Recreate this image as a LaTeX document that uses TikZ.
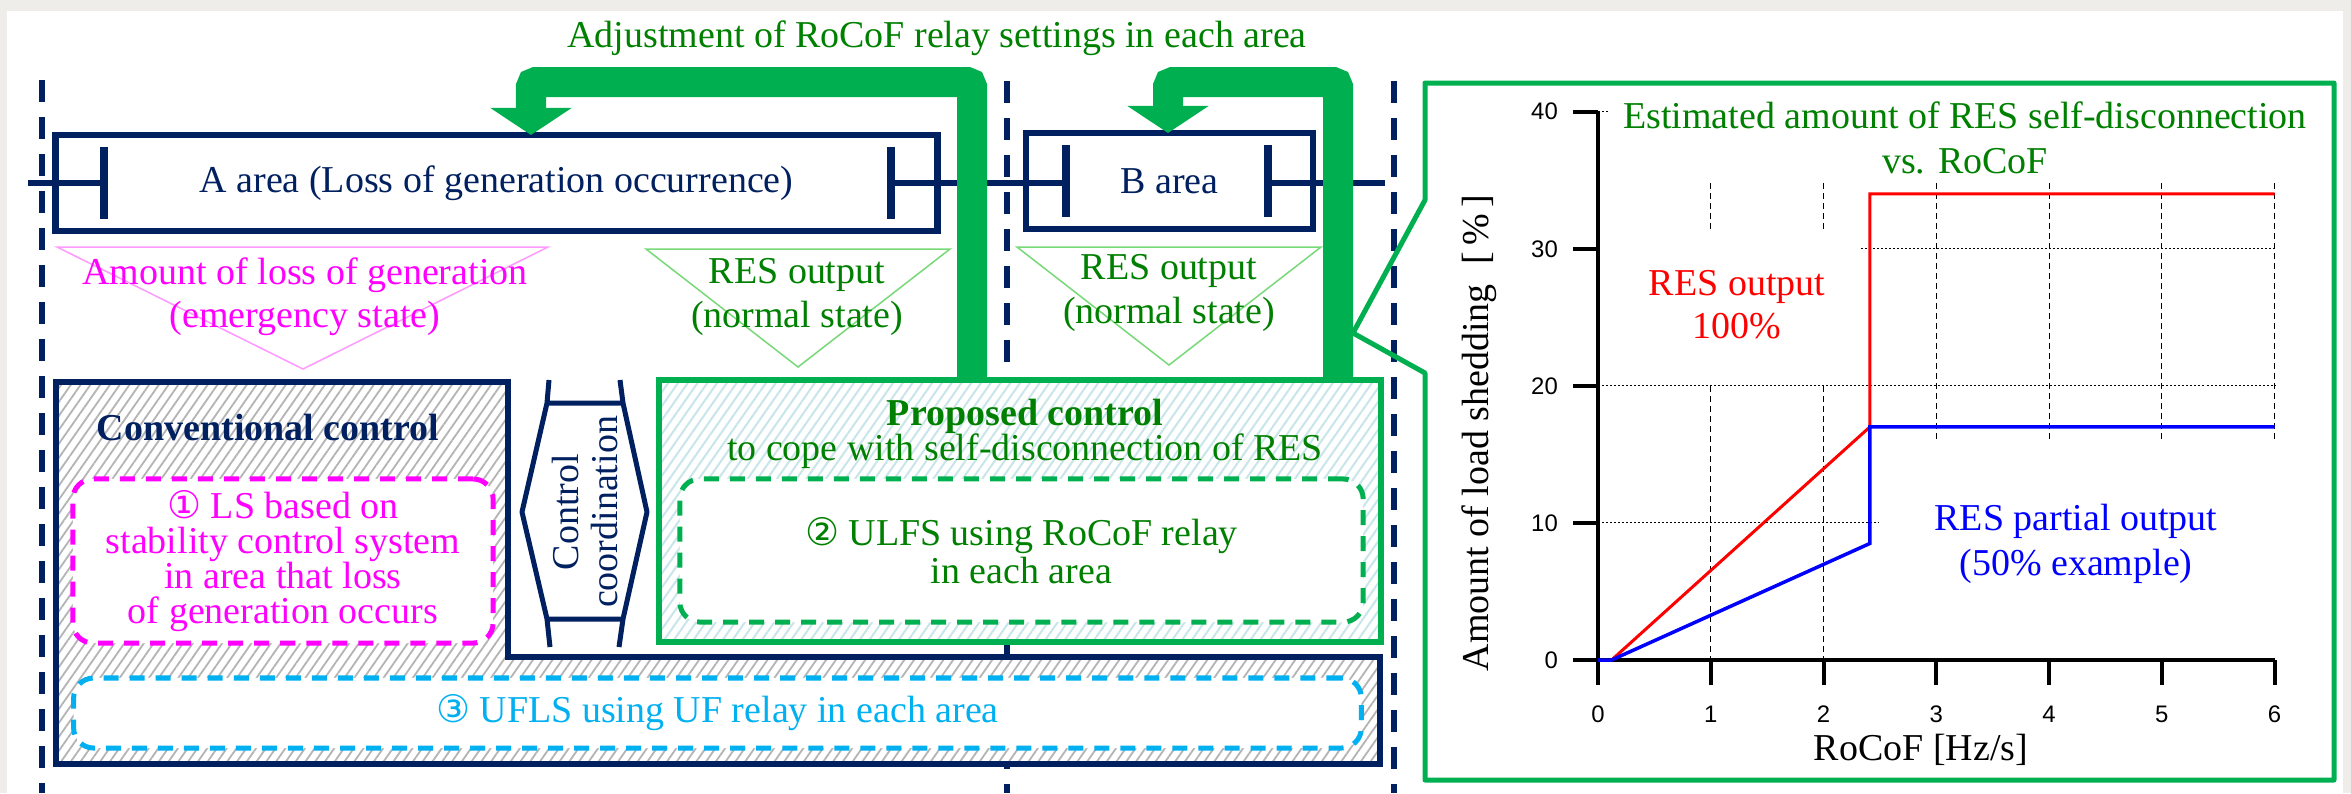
\documentclass[tikz,border=0pt]{standalone}
\usepackage{fontspec}
\setmainfont{Liberation Serif}
\newfontfamily\ticksfont{Liberation Sans}
\newfontfamily\circfont{DejaVu Sans}
\usetikzlibrary{arrows.meta,patterns.meta}

\definecolor{navy}{HTML}{002060}
\definecolor{brightgreen}{HTML}{00B050}
\definecolor{textgreen}{HTML}{008000}
\definecolor{lsmagenta}{HTML}{FF00FF}
\definecolor{tripink}{HTML}{FF99FF}
\definecolor{trigreen}{HTML}{77D977}
\definecolor{uflsblue}{HTML}{00B0F0}
\definecolor{hatchgray}{HTML}{B4B4B4}
\definecolor{hatchcyan}{HTML}{C8E6EA}
\definecolor{framegray}{HTML}{EEEDE9}

\newcommand{\circnum}[1]{{\circfont #1}}

\tikzset{
  txt/.style={font=\fontsize{10.8}{12.4}\selectfont, inner sep=0pt, outer sep=0pt},
  boundary/.style={navy, line width=0.06cm, dash pattern=on 0.22cm off 0.15cm},
  areabox/.style={txt, draw=navy, line width=0.065cm, fill=white, text=navy},
  busline/.style={navy, line width=0.06cm},
  busbar/.style={navy, line width=0.08cm},
  outtri/.style={line width=0.015cm},
  feedback/.style={brightgreen, line width=0.3cm, rounded corners=0.05cm,
    -{Triangle[length=0.27cm,width=0.8cm]}},
  convbox/.style={draw=navy, line width=0.065cm, preaction={fill=white},
    pattern={Lines[angle=55,distance=0.08cm,line width=0.018cm]}, pattern color=hatchgray},
  propbox/.style={draw=brightgreen, line width=0.06cm, inner sep=0pt, outer sep=0pt,
    preaction={fill=white},
    pattern={Lines[angle=55,distance=0.08cm,line width=0.02cm]}, pattern color=hatchcyan},
  ctrlbox/.style={txt, line width=0.05cm, dash pattern=on 0.15cm off 0.11cm,
    rounded corners=0.2cm, fill=white, align=center},
  gridv/.style={black, line width=0.01cm, dash pattern=on 0.06cm off 0.04cm},
  gridh/.style={black, line width=0.01cm, dash pattern=on 0.02cm off 0.02cm},
  tickmark/.style={black, line width=0.04cm},
  ticklabel/.style={inner sep=0pt, font=\ticksfont\fontsize{6.8}{8}\selectfont}
}

\begin{document}
\begin{tikzpicture}[x=0.01cm,y=-0.01cm]
\useasboundingbox (0,0) rectangle (2351,793);
\fill[framegray] (0,0) rectangle (2351,793);
\fill[white] (7,11) rectangle (2343,793);

% area boundaries
\draw[boundary] (42,80) -- (42,793);
\draw[boundary] (1007,81) -- (1007,793);
\draw[boundary] (1394,81) -- (1394,793);

% conventional control
\draw[convbox] (56,382) -- (508,382) -- (508,657) -- (1380,657) -- (1380,764) -- (56,764) -- cycle;
\node[txt, anchor=base, text=navy, font=\bfseries\fontsize{10.8}{12.4}\selectfont] (convtitle) at (268,440) {Conventional control};
\node[ctrlbox, draw=lsmagenta, text=lsmagenta, minimum width=4.2cm, minimum height=1.64cm,
  font=\fontsize{10.8}{9.96}\selectfont] (lsbox) at (283,561)
  {\circnum{①} LS based on\\stability control system\\in area that loss\\of generation occurs};
\node[ctrlbox, draw=uflsblue, text=uflsblue, minimum width=12.87cm, minimum height=0.7cm] (uflsbox) at (717.5,713)
  {\circnum{③} UFLS using UF relay in each area};

% proposed control
\node[propbox, minimum width=7.22cm, minimum height=2.62cm] (prop) at (1020,511) {};
\node[txt, anchor=base, text=textgreen, font=\bfseries\fontsize{10.8}{12.4}\selectfont] (proptitle) at (1025,425) {Proposed control};
\node[txt, anchor=base, text=textgreen] (propsub) at (1025,460) {to cope with self-disconnection of RES};
\node[ctrlbox, draw=brightgreen, text=textgreen, minimum width=6.83cm, minimum height=1.43cm,
  font=\fontsize{10.8}{9.7}\selectfont] (ulfsbox) at (1021.5,550.5)
  {\circnum{②} ULFS using RoCoF relay\\in each area};

% control coordination
\fill[white] (547,403) -- (522,512) -- (547,619) -- (623,619) -- (647,512) -- (623,403) -- cycle;
\draw[navy, line width=0.05cm, line join=round]
  (549,380) -- (547,403) -- (522,512) -- (547,619) -- (550,647)
  (620,380) -- (623,403) -- (647,512) -- (623,619) -- (619,647)
  (547,403) -- (623,403) (547,619) -- (623,619);
\node[txt, rotate=90, align=center, text=navy, font=\fontsize{10.8}{11}\selectfont] (coord) at (585,512) {Control\\coordination};

% areas
\node[areabox, minimum width=8.81cm, minimum height=0.96cm] (aarea) at (496.5,183) {A area (Loss of generation occurrence)};
\node[areabox, minimum width=2.87cm, minimum height=0.96cm] (barea) at (1169.5,181) {B area};
\draw[busline] (28,183) -- (104,183);
\draw[busline] (891,183) -- (1066,183);
\draw[busline] (1268,183) -- (1385,183);
\draw[busbar] (104,147) -- (104,219);
\draw[busbar] (891,147) -- (891,219);
\draw[busbar] (1066,145) -- (1066,217);
\draw[busbar] (1268,145) -- (1268,217);

% generation loss and RES output
\draw[outtri, tripink] (57,247) -- (548,247) -- (303,369) -- cycle;
\draw[outtri, trigreen] (646,249) -- (950,249) -- (798,367) -- cycle;
\draw[outtri, trigreen] (1017,247) -- (1321,247) -- (1169,365) -- cycle;
\node[txt, anchor=base, align=center, text=lsmagenta, font=\fontsize{10.8}{11.95}\selectfont] (lossgen) at (305,327)
  {Amount of loss of generation\\(emergency state)};
\node[txt, anchor=base, align=center, text=textgreen] (resa) at (797,327) {RES output\\(normal state)};
\node[txt, anchor=base, align=center, text=textgreen] (resb) at (1169,323) {RES output\\(normal state)};

% relay setting adjustment
\coordinate (aRise) at (972,82);
\coordinate (aDrop) at (531,82);
\coordinate (bRise) at (1338,82);
\coordinate (bDrop) at (1168,82);
\draw[feedback] (prop.north -| aRise) -- (aRise) -- (aDrop) -- (aDrop |- aarea.north);
\draw[feedback] (prop.north -| bRise) -- (bRise) -- (bDrop) -- (bDrop |- barea.north);
\node[txt, anchor=base, text=textgreen] (adjust) at (937,47) {Adjustment of RoCoF relay settings in each area};

% RoCoF chart
\draw[brightgreen, line width=0.05cm, line join=round]
  (1425,83) -- (2334,83) -- (2334,780) -- (1425,780) -- (1425,373) -- (1353,333) -- (1425,200) -- cycle;
\begin{scope}[shift={(1598,660)}, x=1.127cm, y=0.137cm]
  \draw[gridh] (0,0) -- (0,40);
  \draw[gridh] (0,10) -- (2.49,10);
  \draw[gridh] (0,20) -- (6,20);
  \draw[gridh] (2.33,30) -- (6,30);
  \draw[gridh] (0,40) -- (0.1,40);
  \foreach \u in {1,2} {
    \draw[gridv] (\u,34.8) -- (\u,31.2);
    \draw[gridv] (\u,20) -- (\u,0);
  }
  \foreach \u in {3,...,6}
    \draw[gridv] (\u,34.8) -- (\u,16);
  \draw[line width=0.045cm] (0,40) -- (0,0) -- (6,0);
  \foreach \v in {0,10,20,30,40} {
    \draw[tickmark] (0,\v) -- (-0.22,\v);
    \node[ticklabel, anchor=east] (ytick\v) at (-0.35,\v) {\v};
  }
  \foreach \u in {0,...,6} {
    \draw[tickmark] (\u,0) -- (\u,-1.8);
    \node[ticklabel] (xtick\u) at (\u,-3.95) {\u};
  }
  \draw[red, line width=0.03cm] (0.12,0) -- (2.41,17) -- (2.41,34) -- (6,34);
  \draw[blue, line width=0.035cm] (0,0) -- (0.12,0) -- (2.41,8.5) -- (2.41,17) -- (6,17);
\end{scope}
\node[txt, anchor=base, align=center, text=textgreen, font=\fontsize{10.8}{12.8}\selectfont] (charttitle) at (1965,173)
  {Estimated amount of RES self-disconnection\\vs. RoCoF};
\node[txt, anchor=base, align=center, text=red, font=\fontsize{10.8}{12.2}\selectfont] (fullres) at (1737,338) {RES output\\100\%};
\node[txt, anchor=base, align=center, text=blue, font=\fontsize{10.8}{12.8}\selectfont] (partres) at (2076,575) {RES partial output\\(50\% example)};
\node[txt, rotate=90] (ylabel) at (1479,433) {Amount of load shedding\hspace{0.2cm}[\,\%\,]};
\node[txt, anchor=base] (xlabel) at (1921,760) {RoCoF [Hz/s]};
\end{tikzpicture}
\end{document}
